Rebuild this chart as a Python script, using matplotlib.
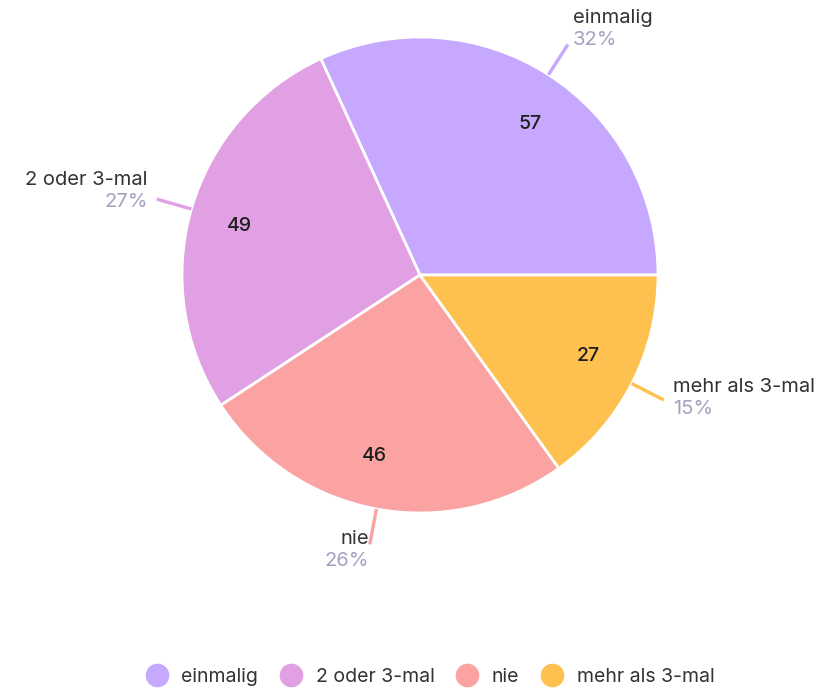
import numpy as np
import matplotlib
matplotlib.use('Agg')
import matplotlib.pyplot as plt
from matplotlib.lines import Line2D

# data
labels = ['einmalig', '2 oder 3-mal', 'nie', 'mehr als 3-mal']
counts = [57, 49, 46, 27]
pct_labels = ['32%', '27%', '26%', '15%']
colors = ['#C6A9FE', '#E0A0E3', '#FBA3A3', '#FEC04F']

plt.rcParams['font.family'] = ['Inter', 'DejaVu Sans']
TXT = '#333333'
PCT = '#A5A0C2'

W, H = 823, 691
fig = plt.figure(figsize=(W / 100, H / 100), dpi=100)
ax = fig.add_axes([0, 0, 1, 1])

cx, cy, R = 420, H - 275, 238
wedges, _ = ax.pie(counts, colors=colors, startangle=0, counterclock=True,
                   center=(cx, cy), radius=R, frame=True,
                   wedgeprops=dict(edgecolor='white', linewidth=2))
ax.set_xlim(0, W)
ax.set_ylim(0, H)
ax.set_aspect('equal')
ax.axis('off')

# label placement per slice: (text x, text y, ha)
outer = {
    'einmalig': (573, H - 18, 'left'),
    '2 oder 3-mal': (148, H - 180, 'right'),
    'nie': (369, H - 539, 'right'),
    'mehr als 3-mal': (673, H - 387, 'left'),
}
# small angular nudges so counts sit where the reference has them
nudge = [-3.5, 1.0, -3.5, 1.5]

for w, lab, n, p, c, dt in zip(wedges, labels, counts, pct_labels, colors, nudge):
    mid = np.deg2rad((w.theta1 + w.theta2) / 2)
    # count inside
    ang = mid + np.deg2rad(dt)
    r_in = 0.785 * R
    ax.text(cx + r_in * np.cos(ang), cy + r_in * np.sin(ang), str(n),
            ha='center', va='center', fontsize=14, color='#1e1e1e', fontweight='medium')
    # leader line
    r0, r1 = R, R + 36
    ax.plot([cx + r0 * np.cos(mid), cx + r1 * np.cos(mid)],
            [cy + r0 * np.sin(mid), cy + r1 * np.sin(mid)],
            color=c, lw=2.4, solid_capstyle='butt')
    tx, ty, ha = outer[lab]
    ax.text(tx, ty, lab, ha=ha, va='center', fontsize=14.5, color=TXT)
    ax.text(tx, ty - 22, p, ha=ha, va='center', fontsize=14.5, color=PCT)

handles = [Line2D([], [], marker='o', linestyle='', markersize=16,
                  markerfacecolor=c, markeredgecolor=c) for c in colors]
fig.legend(handles, labels, loc='center', bbox_to_anchor=(426 / W, 1 - 677 / H),
           ncol=4, frameon=False, fontsize=14, handletextpad=0.25,
           columnspacing=0.7, labelcolor=TXT)

fig.savefig('out.png', dpi=100)
